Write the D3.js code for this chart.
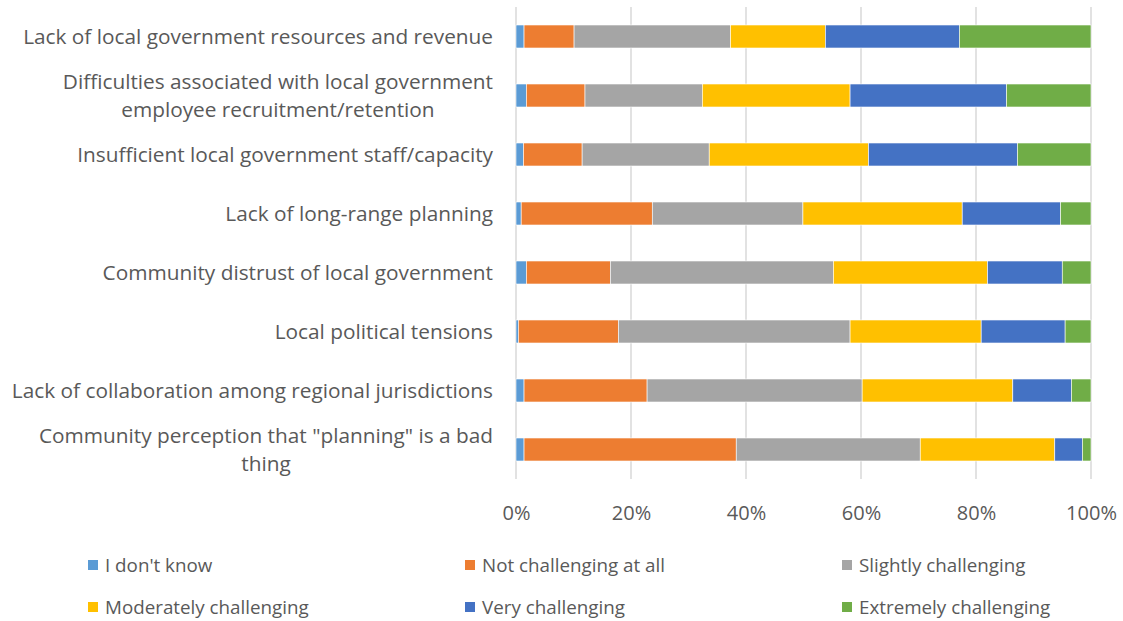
<!DOCTYPE html>
<html>
<head>
<meta charset="utf-8">
<script src="https://cdn.jsdelivr.net/npm/d3@7"></script>
<style>
  body { margin: 0; background: #fff; }
  text { font-family: "Open Sans", sans-serif; fill: #595959; }
</style>
</head>
<body>
<div id="main"></div>
<script>
// categories top to bottom
var categories = [
  "Lack of local government resources and revenue",
  "Difficulties associated with local government|employee recruitment/retention",
  "Insufficient local government staff/capacity",
  "Lack of long-range planning",
  "Community distrust of local government",
  "Local political tensions",
  "Lack of collaboration among regional jurisdictions",
  "Community perception that \"planning\" is a bad|thing"
];

var seriesNames = ["I don't know", "Not challenging at all", "Slightly challenging",
  "Moderately challenging", "Very challenging", "Extremely challenging"];

// percent values per category, one array per series
var dontKnow      = [1.4, 1.8, 1.3, 0.9, 1.8, 0.4, 1.4, 1.4];
var notChall      = [8.7, 10.2, 10.2, 22.8, 14.6, 17.4, 21.4, 36.9];
var slightly      = [27.2, 20.4, 22.1, 26.2, 38.8, 40.3, 37.4, 32.0];
var moderately    = [16.5, 25.7, 27.7, 27.7, 26.8, 22.8, 26.2, 23.4];
var very          = [23.3, 27.2, 25.9, 17.1, 13.0, 14.6, 10.2, 4.8];
var extremely     = [22.9, 14.7, 12.8, 5.3, 5.0, 4.5, 3.4, 1.5];

var tickValues = [0, 20, 40, 60, 80, 100];
var colors = ["#5B9BD5", "#ED7D31", "#A5A5A5", "#FFC000", "#4472C4", "#70AD47"];

var allSeries = [dontKnow, notChall, slightly, moderately, very, extremely];

var width = 1123, height = 621;
var margin = {top: 7, left: 516, right: 32, bottom: 142};

var svg = d3.select("#main").append("svg")
  .attr("width", width)
  .attr("height", height);

// build rows for the stack
var rows = categories.map(function(c, i) {
  var r = {cat: c};
  seriesNames.forEach(function(s, j) { r[s] = allSeries[j][i]; });
  return r;
});

var xScale = d3.scaleLinear()
  .domain([0, 100])
  .range([margin.left, width - margin.right]);

var yScale = d3.scaleBand()
  .domain(categories)
  .range([margin.top, height - margin.bottom])
  .paddingInner(0.61)
  .paddingOuter(0.305);

var color = d3.scaleOrdinal().domain(seriesNames).range(colors);

// gridlines
svg.append("g")
  .selectAll("line")
  .data(tickValues)
  .enter().append("line")
  .attr("x1", function(d) { return xScale(d); })
  .attr("x2", function(d) { return xScale(d); })
  .attr("y1", margin.top)
  .attr("y2", height - margin.bottom)
  .attr("stroke", "#D9D9D9")
  .attr("stroke-width", 1.5);

var stack = d3.stack().keys(seriesNames);
var stacked = stack(rows);

svg.append("g")
  .selectAll("g")
  .data(stacked)
  .enter().append("g")
  .attr("fill", function(d) { return color(d.key); })
  .selectAll("rect")
  .data(function(d) { return d; })
  .enter().append("rect")
  .attr("x", function(d) { return xScale(d[0]); })
  .attr("width", function(d) { return xScale(d[1]) - xScale(d[0]); })
  .attr("y", function(d) { return yScale(d.data.cat); })
  .attr("height", yScale.bandwidth())
  .attr("stroke", "#fff")
  .attr("stroke-width", 0.6);

// x axis tick labels
var xAxis = d3.axisBottom(xScale)
  .tickValues(tickValues)
  .tickSize(0)
  .tickPadding(0)
  .tickFormat(function(d) { return d + "%"; });

var gx = svg.append("g")
  .attr("transform", "translate(0," + 520 + ")")
  .call(xAxis);
gx.select(".domain").remove();
gx.selectAll("text")
  .attr("dy", 0)
  .style("font-size", "20px")
  .style("font-family", "'Open Sans', sans-serif")
  .attr("fill", "#595959");

// category labels, wrapped lines centered as a block, right aligned
var labelRight = 493;
var labels = svg.append("g");
categories.forEach(function(c) {
  var lines = c.split("|");
  var cy = yScale(c) + yScale.bandwidth() / 2;
  var g = labels.append("g");
  var texts = lines.map(function(l, k) {
    return g.append("text")
      .attr("y", cy + (k - (lines.length - 1) / 2) * 28)
      .attr("dy", "0.35em")
      .style("font-size", "20.8px")
      .text(l);
  });
  var maxW = d3.max(texts, function(t) { return t.node().getComputedTextLength(); });
  texts.forEach(function(t) {
    t.attr("x", labelRight - maxW / 2).attr("text-anchor", "middle");
  });
});

// legend
var legendX = [88, 465, 842];
var legendY = [565, 607];
var legend = svg.selectAll(".legend")
  .data(seriesNames)
  .enter().append("g")
  .attr("class", "legend")
  .attr("transform", function(d, i) {
    return "translate(" + legendX[i % 3] + "," + legendY[Math.floor(i / 3)] + ")";
  });

legend.append("rect")
  .attr("x", 0)
  .attr("y", -5)
  .attr("width", 10)
  .attr("height", 10)
  .attr("fill", color);

legend.append("text")
  .attr("x", 17)
  .attr("y", 0)
  .attr("dy", "0.35em")
  .style("font-size", "18.8px")
  .text(function(d) { return d; });
</script>
</body>
</html>
